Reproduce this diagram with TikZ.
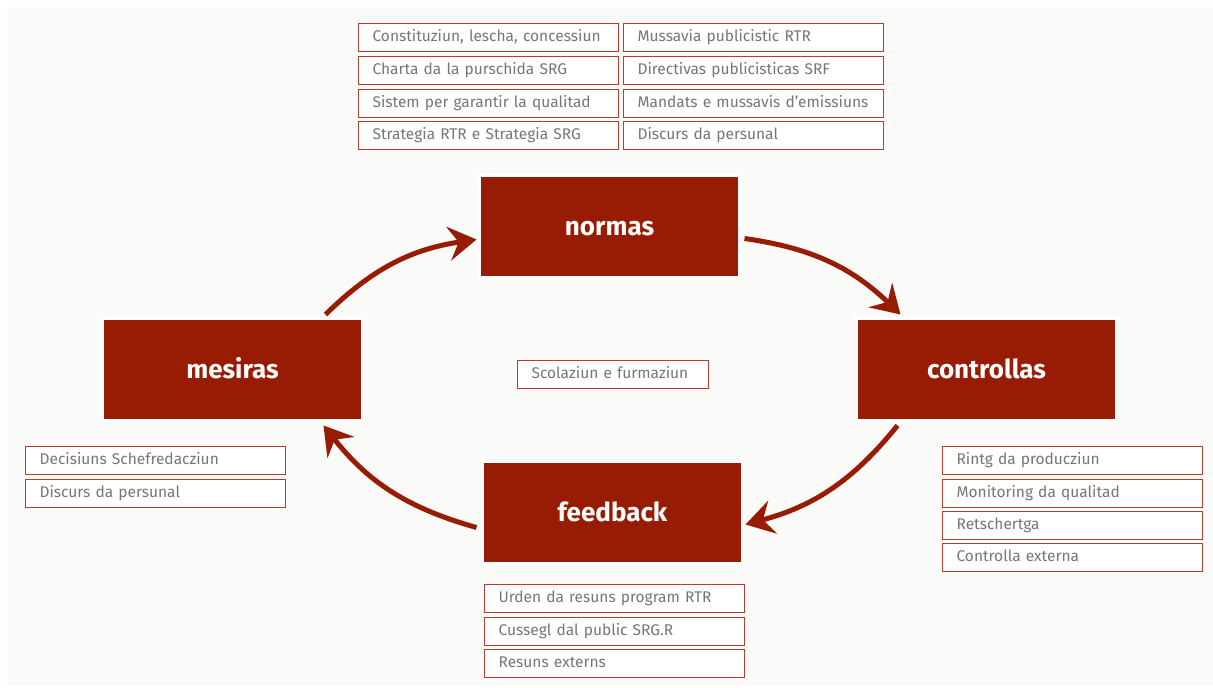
\documentclass[tikz,border=0pt]{standalone}
\usepackage{fontspec}
\setmainfont{Fira Sans}
\usetikzlibrary{arrows.meta}
\definecolor{darkred}{RGB}{152,28,4}
\definecolor{boxline}{RGB}{182,62,46}
\definecolor{txtgray}{RGB}{118,118,118}
\definecolor{panel}{RGB}{250,250,249}
\tikzset{
  bigbox/.style={draw=white, line width=3pt, fill=darkred, text=white,
    minimum width=260pt, minimum height=102pt, inner sep=0pt, outer sep=0pt,
    anchor=north west, text height=21pt, text depth=3pt,
    font=\fontsize{26}{30}\selectfont\bfseries},
  itembox/.style={draw=boxline, line width=1.2pt, fill=white, text=txtgray,
    minimum width=260pt, minimum height=28pt, inner xsep=14pt, inner ysep=0pt,
    text width=232pt, align=left, anchor=north west,
    text height=11pt, text depth=3pt,
    font=\fontsize{15.5}{17}\selectfont},
  cyclearrow/.style={draw=darkred, line width=5pt,
    -{Stealth[length=28pt, width=34pt, inset=10pt]}}
}
\begin{document}
\begin{tikzpicture}[x=1pt,y=-1pt]
\useasboundingbox (0,0) rectangle (1213,688);
\fill[panel] (7,7) rectangle (1213,686);

% main boxes
\node[bigbox] (normas) at (479.5,175.5) {normas};
\node[bigbox] (controllas) at (856.5,318.5) {controllas};
\node[bigbox] (mesiras) at (102.5,318.5) {mesiras};
\node[bigbox] (feedback) at (482.5,461.5) {feedback};

% top lists
\node[itembox] (n1) at (358,23) {Constituziun, lescha, concessiun};
\node[itembox] (n2) at (358,56) {Charta da la purschida SRG};
\node[itembox] (n3) at (358,89) {Sistem per garantir la qualitad};
\node[itembox] (n4) at (358,121) {Strategia RTR e Strategia SRG};
\node[itembox] (n5) at (623,23) {Mussavia publicistic RTR};
\node[itembox] (n6) at (623,56) {Directivas publicisticas SRF};
\node[itembox] (n7) at (623,89) {Mandats e mussavis d’emissiuns};
\node[itembox] (n8) at (623,121) {Discurs da persunal};

% centre
\node[itembox, minimum width=191pt, text width=163pt] (center) at (517,360) {Scolaziun e furmaziun};

% mesiras list
\node[itembox] (m1) at (25,446) {Decisiuns Schefredacziun};
\node[itembox] (m2) at (25,479) {Discurs da persunal};

% controllas list
\node[itembox] (c1) at (942,446) {Rintg da producziun};
\node[itembox] (c2) at (942,479) {Monitoring da qualitad};
\node[itembox] (c3) at (942,511) {Retschertga};
\node[itembox] (c4) at (942,543) {Controlla externa};

% feedback list
\node[itembox] (f1) at (484,584) {Urden da resuns program RTR};
\node[itembox] (f2) at (484,617) {Cussegl dal public SRG.R};
\node[itembox] (f3) at (484,649) {Resuns externs};

% cycle arrows
\coordinate (a1s) at ([xshift=-37pt,yshift=4pt]mesiras.north east);
\coordinate (a1e) at ([xshift=-3pt,yshift=-13pt]normas.west);
\coordinate (a2s) at ([xshift=5pt,yshift=-12pt]normas.east);
\coordinate (a2e) at ([xshift=44pt,yshift=4pt]controllas.north west);
\coordinate (a3s) at ([xshift=41pt,yshift=-5pt]controllas.south west);
\coordinate (a3e) at ([xshift=3pt,yshift=-12pt]feedback.east);
\coordinate (a4s) at ([xshift=-6pt,yshift=-15pt]feedback.west);
\coordinate (a4e) at ([xshift=-39pt,yshift=-5pt]mesiras.south east);

\draw[cyclearrow] (a1s) to[bend left=18] (a1e);
\draw[cyclearrow] (a2s) to[bend left=18] (a2e);
\draw[cyclearrow] (a3s) to[bend left=18] (a3e);
\draw[cyclearrow] (a4s) to[bend left=18] (a4e);
\end{tikzpicture}
\end{document}
